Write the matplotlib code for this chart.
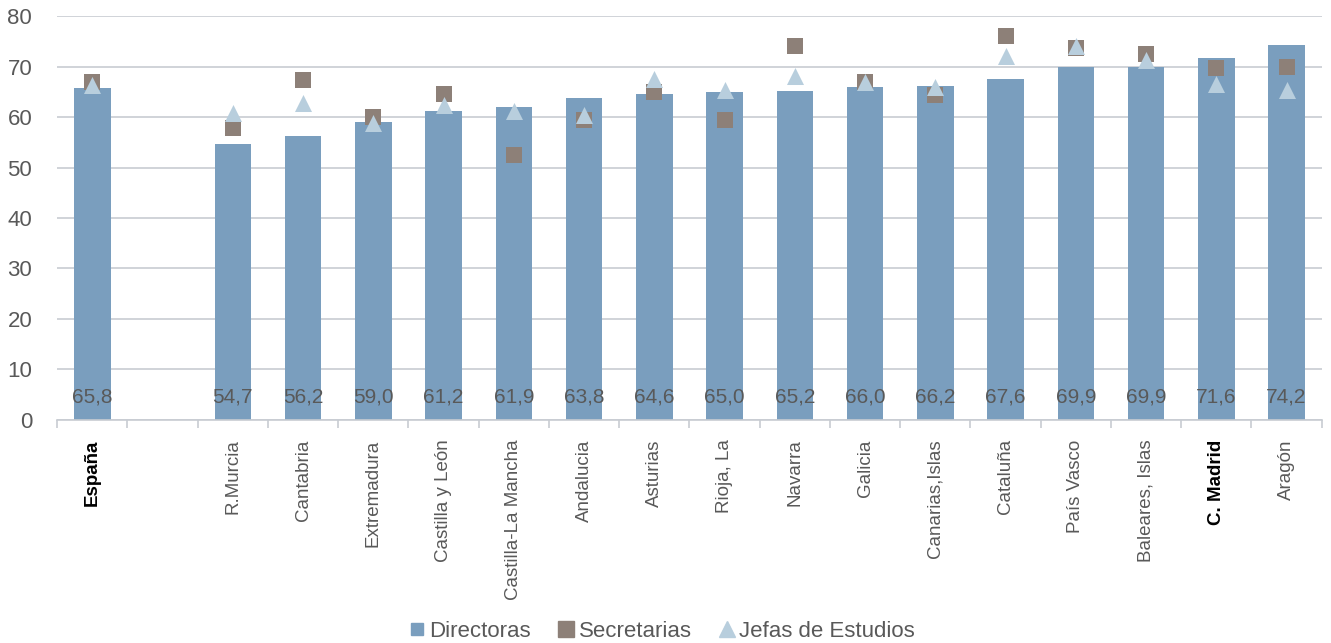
import numpy as np
import matplotlib.pyplot as plt
from matplotlib.lines import Line2D

plt.rcParams['font.family'] = ['Liberation Sans', 'DejaVu Sans']

# Data (empty string = blank slot between España and regions)
regions = ['España', '', 'R.Murcia', 'Cantabria', 'Extremadura', 'Castilla y León',
           'Castilla-La Mancha', 'Andalucia', 'Asturias', 'Rioja, La', 'Navarra',
           'Galicia', 'Canarias,Islas', 'Cataluña', 'País Vasco', 'Baleares, Islas',
           'C. Madrid', 'Aragón']
directoras = [65.8, None, 54.7, 56.2, 59.0, 61.2, 61.9, 63.8, 64.6, 65.0, 65.2,
              66.0, 66.2, 67.6, 69.9, 69.9, 71.6, 74.2]
secretarias = [66.9, None, 57.8, 67.3, 60.0, 64.5, 52.5, 59.5, 65.0, 59.4, 74.0,
               67.0, 64.3, 76.0, 73.6, 72.4, 69.7, 70.0]
jefas = [66.3, None, 60.8, 62.8, 58.8, 62.4, 61.2, 60.4, 67.6, 65.3, 68.1,
         67.0, 66.0, 72.0, 74.1, 71.2, 66.5, 65.3]
bold_labels = ['España', 'C. Madrid']

c_bar = '#7a9ebe'
c_sec = '#8d8078'
c_jef = '#b8cedd'
c_txt = '#595959'
c_grid = '#c8ccd2'

fig = plt.figure(figsize=(13.31, 6.43), dpi=100)
ax = fig.add_axes([0.043, 0.347, 0.950, 0.628])

x = np.arange(len(regions))
d = np.array([np.nan if v is None else v for v in directoras])
s = np.array([np.nan if v is None else v for v in secretarias])
j = np.array([np.nan if v is None else v for v in jefas])

ax.bar(x, np.nan_to_num(d), width=0.52, color=c_bar, zorder=2)
ax.scatter(x, s, marker='s', s=120, color=c_sec, zorder=3, linewidths=0)
ax.scatter(x, j, marker='^', s=150, color=c_jef, zorder=4, linewidths=0)

# value labels near the base of each bar
for xi, v in zip(x, d):
    if not np.isnan(v):
        ax.text(xi, 4.5, f'{v:.1f}'.replace('.', ','), ha='center', va='center',
                fontsize=15, color=c_txt, zorder=5)

ax.set_xlim(-0.5, len(regions) - 0.5)
ax.set_ylim(0, 80)
ax.set_yticks(range(0, 81, 10))
ax.yaxis.grid(True, color=c_grid, linewidth=1.2, zorder=0)
ax.set_axisbelow(True)

ax.set_xticks(x)
ax.set_xticklabels(regions, rotation=90, va='top', ha='center', fontsize=13.5, color=c_txt)
for lab in ax.get_xticklabels():
    if lab.get_text() in bold_labels:
        lab.set_fontweight('bold')
        lab.set_color('black')
ax.tick_params(axis='x', which='major', length=0, pad=14)
ax.set_xticks(np.arange(-0.5, len(regions), 1), minor=True)
ax.tick_params(axis='x', which='minor', length=6, color=c_grid, width=1.2)
ax.tick_params(axis='y', length=0, labelsize=16, labelcolor=c_txt, pad=18)

for side in ['top', 'right', 'left']:
    ax.spines[side].set_visible(False)
ax.spines['bottom'].set_color(c_grid)
ax.spines['bottom'].set_linewidth(1.2)

handles = [
    Line2D([], [], marker='s', linestyle='none', color=c_bar, markersize=9),
    Line2D([], [], marker='s', linestyle='none', color=c_sec, markersize=11),
    Line2D([], [], marker='^', linestyle='none', color=c_jef, markersize=11),
]
fig.legend(handles, ['Directoras', 'Secretarias', 'Jefas de Estudios'],
           loc='center', bbox_to_anchor=(0.497, 0.018), ncol=3, frameon=False,
           fontsize=16, labelcolor=c_txt, handlelength=0.8, handletextpad=0.15,
           columnspacing=1.2)

fig.savefig('out.png', dpi=100)
